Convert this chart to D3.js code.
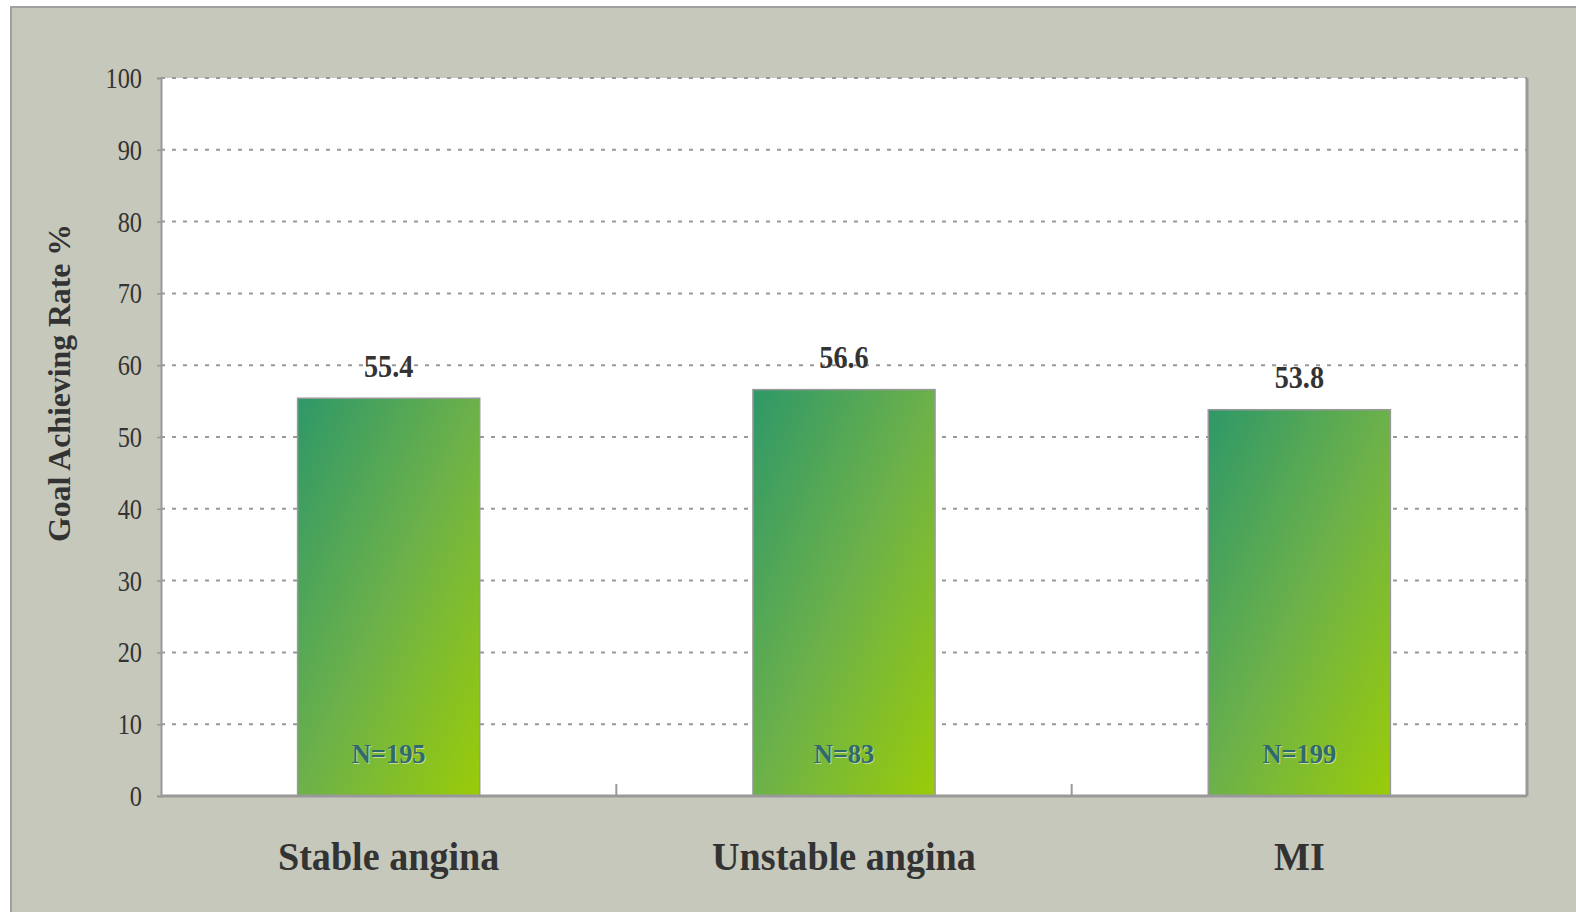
<!DOCTYPE html>
<html>
<head>
<meta charset="utf-8">
<script src="https://cdn.jsdelivr.net/npm/d3@7"></script>
<style>
  body { margin: 0; background: #fff; }
  text { font-family: "Liberation Serif", "Times New Roman", serif; }
</style>
</head>
<body>
<div id="chart"></div>
<script>
// data
var categories = ["Stable angina", "Unstable angina", "MI"];
var rates = [55.4, 56.6, 53.8];
var counts = ["N=195", "N=83", "N=199"];
var yTicks = [0, 10, 20, 30, 40, 50, 60, 70, 80, 90, 100];

var svgWidth = 1576, svgHeight = 912;
var margin = { top: 78, right: 49, bottom: 116, left: 161 };
var width = svgWidth - margin.left - margin.right;
var height = svgHeight - margin.top - margin.bottom;

// narrow the text a bit, the original font is condensed
function squeeze(sel, factor) {
  sel.each(function() {
    var len = this.getComputedTextLength();
    d3.select(this)
      .attr("textLength", len * factor)
      .attr("lengthAdjust", "spacingAndGlyphs");
  });
}

var svg = d3.select("#chart").append("svg")
  .attr("width", svgWidth)
  .attr("height", svgHeight);

// gradient for the bars
var grad = svg.append("defs").append("linearGradient")
  .attr("id", "barGrad")
  .attr("x1", 0).attr("y1", 0).attr("x2", 1).attr("y2", 1);
grad.append("stop").attr("offset", "0%").attr("stop-color", "#2e9868");
grad.append("stop").attr("offset", "50%").attr("stop-color", "#6cb14a");
grad.append("stop").attr("offset", "100%").attr("stop-color", "#9acc08");

// outer frame
svg.append("rect")
  .attr("x", 11).attr("y", 7)
  .attr("width", svgWidth).attr("height", svgHeight)
  .attr("fill", "#c6c8bb")
  .attr("stroke", "#a0a0a0")
  .attr("stroke-width", 2);

var chartGroup = svg.append("g")
  .attr("transform", `translate(${margin.left}, ${margin.top})`);

// plot area
chartGroup.append("rect")
  .attr("width", width).attr("height", height)
  .attr("fill", "#fff");

var xScale = d3.scaleBand()
  .domain(categories)
  .range([0, width])
  .paddingInner(0.6)
  .paddingOuter(0.3);

var yScale = d3.scaleLinear()
  .domain([0, 100])
  .range([height, 0]);

// gridlines
chartGroup.selectAll(".grid")
  .data(yTicks.filter(d => d > 0))
  .enter()
  .append("line")
  .attr("x1", 0).attr("x2", width)
  .attr("y1", d => yScale(d)).attr("y2", d => yScale(d))
  .attr("stroke", "#999")
  .attr("stroke-width", 2)
  .attr("stroke-dasharray", "4,7");

// right border
chartGroup.append("line")
  .attr("x1", width).attr("x2", width)
  .attr("y1", 0).attr("y2", height)
  .attr("stroke", "#999")
  .attr("stroke-width", 3);

// y axis
var leftAxis = d3.axisLeft(yScale).tickValues(yTicks).tickSize(4).tickPadding(15);
var yAxis = chartGroup.append("g").call(leftAxis);
yAxis.select(".domain").attr("stroke", "#999").attr("stroke-width", 2);
yAxis.selectAll(".tick line").attr("stroke", "#999").attr("stroke-width", 1.5);
yAxis.selectAll(".tick text")
  .attr("font-family", "Liberation Serif, serif")
  .attr("font-size", "29px")
  .attr("dy", "0.33em")
  .attr("fill", "#333")
  .call(squeeze, 0.84);

// bars
chartGroup.selectAll(".bar")
  .data(rates)
  .enter()
  .append("rect")
  .attr("x", (d, i) => xScale(categories[i]))
  .attr("y", d => yScale(d))
  .attr("width", xScale.bandwidth())
  .attr("height", d => height - yScale(d))
  .attr("fill", "url(#barGrad)")
  .attr("stroke", "#999")
  .attr("stroke-width", 1.5);

// x axis line
chartGroup.append("line")
  .attr("x1", 0).attr("x2", width)
  .attr("y1", height).attr("y2", height)
  .attr("stroke", "#999")
  .attr("stroke-width", 3);

// x tick marks between categories
var step = xScale.step();
chartGroup.selectAll(".xtick")
  .data(categories.slice(0, -1))
  .enter()
  .append("line")
  .attr("x1", d => xScale(d) + xScale.bandwidth() + (step - xScale.bandwidth()) / 2)
  .attr("x2", d => xScale(d) + xScale.bandwidth() + (step - xScale.bandwidth()) / 2)
  .attr("y1", height).attr("y2", height - 12)
  .attr("stroke", "#999")
  .attr("stroke-width", 2);

// value labels
chartGroup.selectAll(".val")
  .data(rates)
  .enter()
  .append("text")
  .attr("x", (d, i) => xScale(categories[i]) + xScale.bandwidth() / 2)
  .attr("y", d => yScale(d) - 21.5)
  .attr("text-anchor", "middle")
  .attr("font-size", "31px")
  .attr("font-weight", "bold")
  .attr("fill", "#333")
  .text(d => d.toFixed(1))
  .call(squeeze, 0.91);

// N labels (with light shadow)
[["#c8d8a0", 1], ["#2f6a6a", 0]].forEach(function(s) {
  chartGroup.selectAll(null)
    .data(counts)
    .enter()
    .append("text")
    .attr("x", (d, i) => xScale(categories[i]) + xScale.bandwidth() / 2 + s[1])
    .attr("y", height - 33 + s[1])
    .attr("text-anchor", "middle")
    .attr("font-size", "27px")
    .attr("font-weight", "bold")
    .attr("fill", s[0])
    .text(d => d)
    .call(squeeze, 0.98);
});

// category labels
chartGroup.selectAll(".cat")
  .data(categories)
  .enter()
  .append("text")
  .attr("x", d => xScale(d) + xScale.bandwidth() / 2)
  .attr("y", height + 74)
  .attr("text-anchor", "middle")
  .attr("font-size", "41px")
  .attr("font-weight", "bold")
  .attr("fill", "#333")
  .text(d => d)
  .call(squeeze, 0.93);

// y axis title
chartGroup.append("text")
  .attr("transform", "rotate(-90)")
  .attr("x", 0 - (383 - margin.top))
  .attr("y", 70 - margin.left)
  .attr("text-anchor", "middle")
  .attr("font-size", "31px")
  .attr("font-weight", "bold")
  .attr("fill", "#333")
  .text("Goal Achieving Rate %")
  .attr("textLength", 318)
  .attr("lengthAdjust", "spacingAndGlyphs");
</script>
</body>
</html>
